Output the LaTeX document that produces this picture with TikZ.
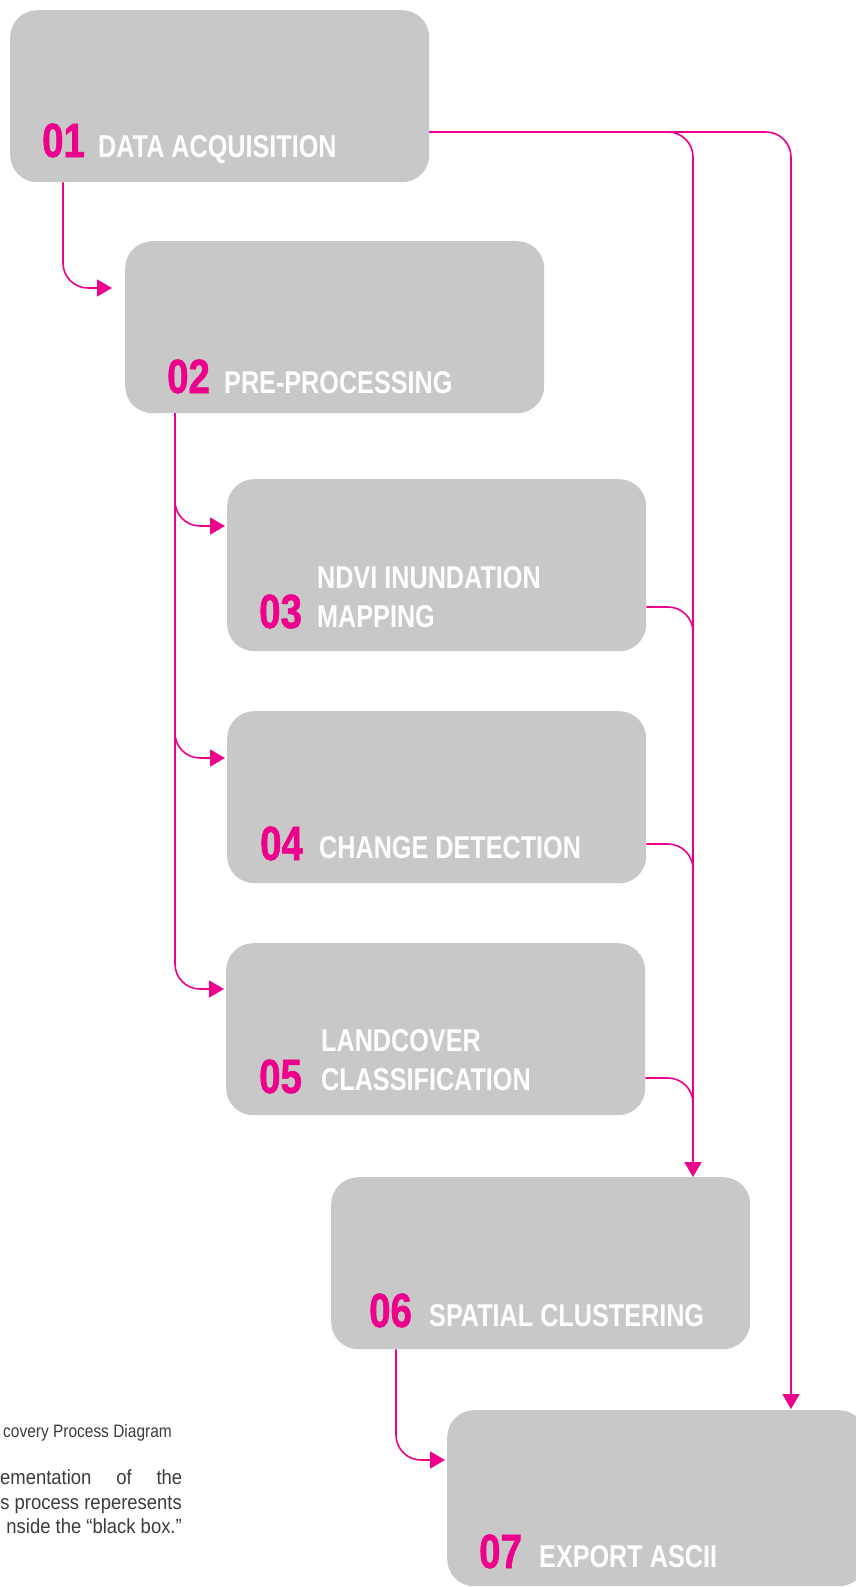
\documentclass[tikz,border=0pt]{standalone}
\usepackage{fontspec}
\newfontfamily\condfont[FakeStretch=0.80]{Liberation Sans}
\newfontfamily\numfont[FakeStretch=0.80,FakeBold=1.2]{Liberation Sans}
\newfontfamily\bodyfont[FakeStretch=0.90]{Liberation Sans}
\newfontfamily\capfont[FakeStretch=0.86]{Liberation Sans}
\usetikzlibrary{arrows.meta,calc}
\definecolor{boxgray}{HTML}{C8C8C8}
\definecolor{pinkline}{HTML}{EC008C}
\definecolor{bodytext}{HTML}{3C3C3C}
\begin{document}
\begin{tikzpicture}[x=1pt,y=-1pt,
  stage/.style={fill=boxgray, rounded corners=27pt, minimum width=419pt, minimum height=172pt, inner sep=0pt, draw=none, anchor=north west},
  num/.style={anchor=base west, inner sep=0pt, text=pinkline, font=\numfont\bfseries\fontsize{48}{48}\selectfont},
  lab/.style={anchor=base west, inner sep=0pt, text=white, font=\condfont\bfseries\fontsize{31.5}{31.5}\selectfont},
  conn/.style={draw=pinkline, line width=1.6pt, rounded corners=25pt},
  arr/.style={conn, -{Triangle[length=15pt,width=17pt]}},
  body/.style={anchor=base east, inner sep=0pt, text=bodytext, font=\bodyfont\fontsize{20.5}{24}\selectfont}]
\useasboundingbox (0,0) rectangle (856,1587);
\clip (0,0) rectangle (856,1587);
% boxes
\node[stage] (b1) at (10,10) {};
\node[stage] (b2) at (125,241) {};
\node[stage] (b3) at (227,479) {};
\node[stage] (b4) at (227,711) {};
\node[stage] (b5) at (226,943) {};
\node[stage] (b6) at (331,1177) {};
\node[stage, minimum height=176pt] (b7) at (447,1410) {};
% trunk coordinates
\coordinate (t6) at ($(b6.north west)+(362,0)$);
\coordinate (t7) at ($(b7.north west)+(344,-1)$);
\coordinate (o1) at ($(b1.north east)+(0,122)$);
% connectors
\draw[arr] ($(b1.south west)+(53,0)$) |- ($(b2.north west)+(-13,47)$);
\draw[arr] ($(b2.south west)+(50,0)$) |- ($(b3.north west)+(-2,47)$);
\draw[arr] ($(b2.south west)+(50,0)$) |- ($(b4.north west)+(-2,47)$);
\draw[arr] ($(b2.south west)+(50,0)$) |- ($(b5.north west)+(-2,46)$);
\draw[arr] ($(b6.south west)+(65,0)$) |- ($(b7.north west)+(-2,50)$);
\draw[arr] (o1) -| (t6);
\draw[arr] (o1) -| (t7);
\draw[conn] ($(b3.north east)+(0,128)$) -| (t6 |- b3.south);
\draw[conn] ($(b4.north east)+(0,133)$) -| (t6 |- b4.south);
\draw[conn] ($(b5.north east)+(0,135)$) -| (t6 |- b5.south);
% labels
\node[num] (n1) at (42,157) {01};
\node[lab] (l1) at (98,157) {DATA ACQUISITION};
\node[num] (n2) at (167,393) {02};
\node[lab] (l2) at (224,393) {PRE-PROCESSING};
\node[num] (n3) at (259,628) {03};
\node[lab] (l3a) at (317,588) {NDVI INUNDATION};
\node[lab] (l3b) at (317,627) {MAPPING};
\node[num] (n4) at (260,860) {04};
\node[lab] (l4) at (319,858) {CHANGE DETECTION};
\node[num] (n5) at (259,1093) {05};
\node[lab] (l5a) at (321,1051) {LANDCOVER};
\node[lab] (l5b) at (321,1090) {CLASSIFICATION};
\node[num] (n6) at (369,1327) {06};
\node[lab] (l6) at (429,1326) {SPATIAL CLUSTERING};
\node[num] (n7) at (479,1568) {07};
\node[lab] (l7) at (539,1567) {EXPORT ASCII};
% side text
\node[body, font=\capfont\fontsize{18}{22}\selectfont] (cap) at (172,1437) {covery Process Diagram};
\node[body, anchor=base west] (tx1) at (0,1484) {\makebox[182pt]{ementation\hfill of\hfill the}};
\node[body] (tx2) at (182,1509) {s process reperesents};
\node[body] (tx3) at (182,1533) {nside the “black box.”};
\end{tikzpicture}
\end{document}
